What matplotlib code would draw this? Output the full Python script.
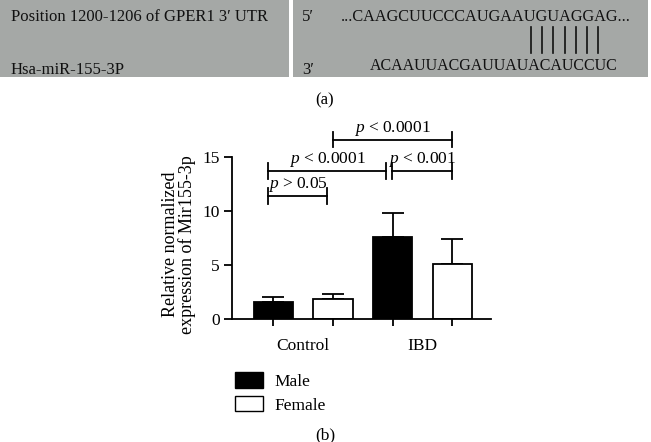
import matplotlib.pyplot as plt
from matplotlib.patches import Rectangle, Patch

plt.rcParams.update({'font.family': 'serif',
                     'font.serif': ['Liberation Serif', 'DejaVu Serif'],
                     'mathtext.fontset': 'custom',
                     'mathtext.rm': 'Liberation Serif',
                     'mathtext.it': 'Liberation Serif:italic',
                     'axes.linewidth': 1.3})

# datos
groups = ['Control', 'IBD']
sexes = ['Male', 'Female']
male_mean = [1.6, 7.55]
female_mean = [1.85, 5.1]
male_err = [0.47, 2.25]
female_err = [0.45, 2.3]

# comparaciones: (x1, x2, y, texto)
comp_x1 = [-0.59, -0.59, 1.49, 0.5]
comp_x2 = [0.40, 1.39, 2.5, 2.5]
comp_y = [11.4, 13.7, 13.7, 16.6]
comp_txt = ['$p$ > 0.05', '$p$ < 0.0001', '$p$ < 0.001', '$p$ < 0.0001']

utr_seq = '...CAAGCUUCCCAUGAAUGUAGGAG...'
mir_seq = 'ACAAUUACGAUUAUACAUCCUC'
n_pairs = 7

W, H = 651, 442
fig = plt.figure(figsize=(W / 100, H / 100), dpi=100)

# ---- panel (a) ----
gray = '#a5a8a6'
fig.patches.append(Rectangle((0, 1 - 77 / H), 289 / W, 77 / H, transform=fig.transFigure,
                             facecolor=gray, edgecolor='none'))
fig.patches.append(Rectangle((293 / W, 1 - 77 / H), 355 / W, 77 / H, transform=fig.transFigure,
                             facecolor=gray, edgecolor='none'))
fs_a = 12
ink = '#111111'
fig.text(11 / W, 1 - 17 / H, "Position 1200-1206 of GPER1 3\u2032 UTR", fontsize=fs_a,
         va='center', ha='left', color=ink)
fig.text(11 / W, 1 - 70 / H, "Hsa-miR-155-3P", fontsize=fs_a, va='center', ha='left', color=ink)
fig.text(302 / W, 1 - 17 / H, "5\u2032", fontsize=fs_a, va='center', ha='left', color=ink)
fig.text(302 / W, 1 - 70 / H, "3\u2032", fontsize=fs_a, va='center', ha='left', color=ink)
fig.text(341 / W, 1 - 17 / H, utr_seq, fontsize=11.7, va='center', ha='left', color=ink)
fig.text(370 / W, 1 - 66 / H, mir_seq, fontsize=11.5, va='center', ha='left', color=ink)
for i in range(n_pairs):
    xp = (531 + i * 11.2) / W
    fig.add_artist(plt.Line2D([xp, xp], [1 - 27 / H, 1 - 53 / H], transform=fig.transFigure,
                              color=ink, lw=1.2))
fig.text(325 / W, 1 - 100 / H, '(a)', fontsize=fs_a, ha='center', va='center')

# ---- panel (b) ----
ax = fig.add_axes([232 / W, 1 - 319 / H, (491 - 232) / W, (319 - 157) / H])
gx = [0, 2]
bw = 0.66
male_x = [g - 0.5 for g in gx]
female_x = [g + 0.5 for g in gx]
ax.bar(male_x, male_mean, bw, color='black', edgecolor='black', lw=1.3, zorder=2)
ax.bar(female_x, female_mean, bw, color='white', edgecolor='black', lw=1.3, zorder=2)
ax.errorbar(male_x, male_mean, yerr=[[0, 0], male_err], fmt='none', ecolor='black',
            elinewidth=1.3, capsize=8, capthick=1.3, zorder=1)
ax.errorbar(female_x, female_mean, yerr=[[0, 0], female_err], fmt='none', ecolor='black',
            elinewidth=1.3, capsize=8, capthick=1.3, zorder=1)

ax.set_xlim(-1.195, 3.15)
ax.set_ylim(0, 15)
ax.set_yticks([0, 5, 10, 15])
ax.set_xticks(sorted(male_x + female_x), labels=[''] * 4)
ax.set_xticks(gx, labels=groups, minor=True)
ax.tick_params(axis='x', which='minor', length=0, pad=14, labelsize=12.5)
ax.tick_params(axis='x', which='major', length=5, width=1.3)
ax.tick_params(axis='y', length=6, width=1.3, labelsize=12.5, pad=3)
for s in ['top', 'right']:
    ax.spines[s].set_visible(False)
ax.text(-0.205, 0.46, 'Relative normalized\nexpression of Mir155-3p', transform=ax.transAxes,
        rotation=90, ha='center', va='center', fontsize=13, linespacing=0.95)

cap = 0.72
for x1, x2, y, t in zip(comp_x1, comp_x2, comp_y, comp_txt):
    ax.plot([x1, x2], [y, y], color='black', lw=1.3, clip_on=False)
    for xx in (x1, x2):
        ax.plot([xx, xx], [y - cap, y + cap], color='black', lw=1.3, clip_on=False)
    ax.text((x1 + x2) / 2, y + 0.15, t, ha='center', va='bottom', fontsize=12.5, clip_on=False)

handles = [Patch(facecolor='black', edgecolor='black', lw=1.0),
           Patch(facecolor='white', edgecolor='black', lw=1.0)]
fig.legend(handles, sexes, loc='upper left', bbox_to_anchor=(235 / W, 1 - 372 / H),
           frameon=False, borderpad=0, borderaxespad=0, handlelength=1.6, handleheight=1.0,
           handletextpad=0.7, labelspacing=0.35, fontsize=12.5)
fig.text(325 / W, 1 - 435 / H, '(b)', fontsize=12.5, ha='center', va='center')

fig.savefig('out.png', dpi=100)
